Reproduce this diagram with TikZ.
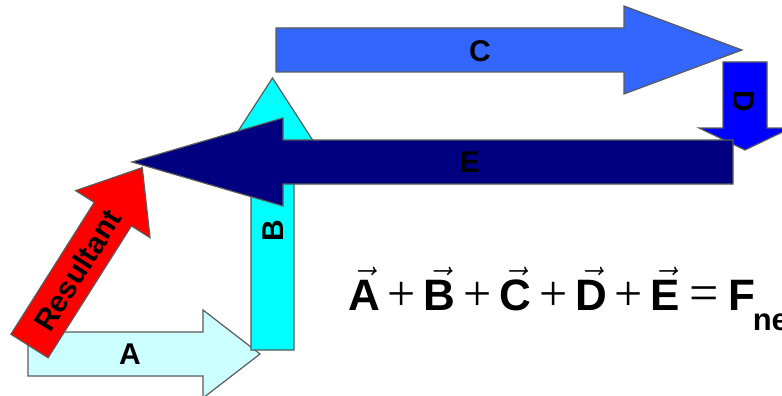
\RequirePackage{fix-cm}
\documentclass[tikz,border=0pt]{standalone}
\usepackage{amsmath}
\usepackage[no-math]{fontspec}
\setmainfont{Liberation Sans}        % Arial widths for the labels
\newfontfamily\opfont{Liberation Serif} % thin + and = of the sum
\usepackage{tikz}

\definecolor{edgegray}{HTML}{5A5A5A}
\definecolor{vecA}{HTML}{CCFFFF}
\definecolor{vecB}{HTML}{00FFFF}
\definecolor{vecC}{HTML}{3366FF}
\definecolor{vecD}{HTML}{0000FF}
\definecolor{vecE}{HTML}{000080}
\definecolor{vecR}{HTML}{FF0000}

\newcommand{\opplus}{\mathbin{\text{\opfont\fontsize{50}{50}\selectfont +}}}
\newcommand{\opeq}{\mathrel{\text{\opfont\fontsize{52}{52}\selectfont =}}}
\newcommand{\vecbf}[1]{\vec{\text{\bfseries #1}}}

\tikzset{
  blockarrow/.style={draw=edgegray, line width=1.2pt, line join=miter},
  arrowlabel/.style={font=\fontsize{30}{36}\selectfont\bfseries, inner sep=0pt, text=black},
}

\begin{document}
\begin{tikzpicture}[x=1pt, y=-1pt] % one unit = one pixel of the sketch, y runs downwards

  \useasboundingbox (0,0) rectangle (782,396); % page size fixed
  \clip (0,0) rectangle (782,396); % the right end of the sum is cut off

  % ======= vector A (tail left, pointing right) =======
  \begin{scope}[shift={(28,354)}]
    \draw[blockarrow, fill=vecA] (0,-22) -- (175,-22) -- (175,-44) -- (232,0) -- (175,44) -- (175,22) -- (0,22) -- cycle;
  \end{scope}
  \node[arrowlabel] (labA) at (130,354) {A};

  % ======= resultant (from tail of A to tip of E) =======
  \begin{scope}[shift={(29.5,346)}, rotate=57.7]
    \draw[blockarrow, fill=vecR] (0,-22) -- (156,-22) -- (156,-44) -- (211,0) -- (156,44) -- (156,22) -- (0,22) -- cycle;
  \end{scope}
  \node[arrowlabel, rotate=57.7] (labR) at (77.5,270) {Resultant};

  % ======= vector B (pointing up) =======
  \begin{scope}[shift={(272.5,350)}, rotate=90]
    \draw[blockarrow, fill=vecB] (0,-21.5) -- (204,-21.5) -- (204,-44) -- (272,0) -- (204,44) -- (204,21.5) -- (0,21.5) -- cycle;
  \end{scope}
  \node[arrowlabel, rotate=90] (labB) at (273,231) {B};

  % ======= vector C (pointing right) =======
  \begin{scope}[shift={(276,50)}]
    \draw[blockarrow, fill=vecC] (0,-22) -- (348,-22) -- (348,-44) -- (466,0) -- (348,44) -- (348,22) -- (0,22) -- cycle;
  \end{scope}
  \node[arrowlabel] (labC) at (480,51) {C};

  % ======= vector D (short, pointing down) =======
  \begin{scope}[shift={(745,62)}, rotate=-90]
    \draw[blockarrow, fill=vecD] (0,-22) -- (66,-22) -- (66,-46) -- (88,0) -- (66,46) -- (66,22) -- (0,22) -- cycle;
  \end{scope}
  \node[arrowlabel, rotate=-90] (labD) at (744,101) {D};

  % ======= vector E (pointing left) =======
  \begin{scope}[shift={(733,162)}, rotate=180]
    \draw[blockarrow, fill=vecE] (0,-22) -- (450,-22) -- (450,-44) -- (601,0) -- (450,44) -- (450,22) -- (0,22) -- cycle;
  \end{scope}
  \node[arrowlabel] (labE) at (470,162.5) {E};

  % ======= the sum =======
  \node[anchor=base west, inner sep=0pt, font=\fontsize{44}{52}\selectfont] (sumeq) at (348,310)
    {\medmuskip=3.2mu\thickmuskip=4mu
     $\vecbf{A}\opplus\vecbf{B}\opplus\vecbf{C}\opplus\vecbf{D}\opplus\vecbf{E}\opeq
      \text{\bfseries F\hspace{-3pt}\raisebox{-20pt}{\fontsize{31}{31}\selectfont net}}$};

\end{tikzpicture}
\end{document}
